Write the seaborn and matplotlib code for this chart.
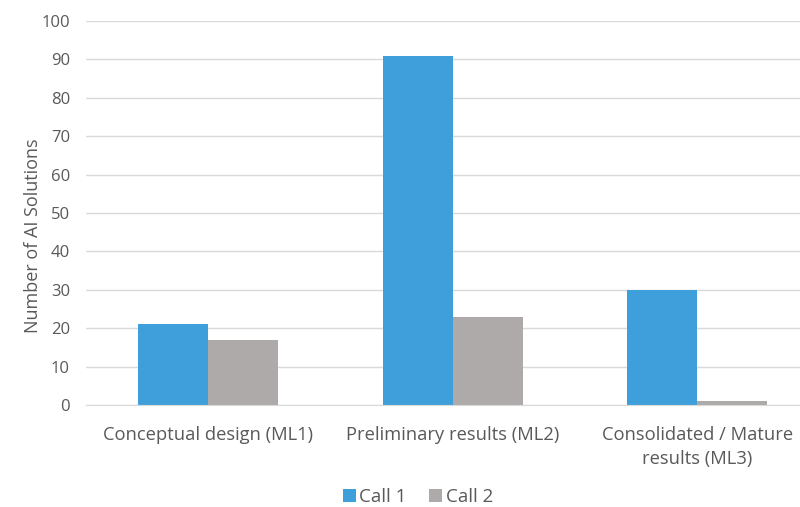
import pandas as pd
import matplotlib
matplotlib.use("Agg")
import matplotlib.pyplot as plt
import seaborn as sns

# data
categories = ["Conceptual design (ML1)", "Preliminary results (ML2)", "Consolidated / Mature\nresults (ML3)"]
call1 = [21, 91, 30]
call2 = [17, 23, 1]
series = ["Call 1", "Call 2"]

df = pd.DataFrame({
    "category": categories * 2,
    "value": call1 + call2,
    "call": [series[0]] * 3 + [series[1]] * 3,
})

sns.set_style("white")
plt.rcParams["font.family"] = ["Open Sans", "DejaVu Sans"]

fig = plt.figure(figsize=(8, 5.07), dpi=100)
ax = fig.add_axes([86 / 800, 1 - 405 / 507, 733.5 / 800, 384 / 507])

sns.barplot(data=df, x="category", y="value", hue="call", ax=ax,
            palette=["#3E9FDA", "#AEAAAA"], width=0.573, saturation=1,
            linewidth=0, legend=True)

ax.set_ylim(0, 100)
ax.set_yticks(range(0, 101, 10))
ax.yaxis.grid(True, color="#D9D9D9", linewidth=1)
ax.set_axisbelow(True)
for s in ["top", "right", "left"]:
    ax.spines[s].set_visible(False)
ax.spines["bottom"].set_color("#D9D9D9")
ax.tick_params(axis="both", length=0, colors="#595959")
ax.tick_params(axis="y", labelsize=12, pad=11.5)
ax.tick_params(axis="x", labelsize=13.2, pad=15)
for lbl in ax.get_xticklabels():
    lbl.set_linespacing(1.45)
ax.set_xlabel("")
ax.set_ylabel("Number of AI Solutions", color="#595959", fontsize=13)
ax.yaxis.label.set_va("center")
ax.yaxis.set_label_coords((33 - 86) / 733.5, (405 - 236) / 384)

leg = ax.legend(loc="center", bbox_to_anchor=(418 / 800, 1 - 497 / 507),
                bbox_transform=fig.transFigure, ncol=2, frameon=False,
                fontsize=13.5, handlelength=0.7, handleheight=0.7,
                handletextpad=0.2, columnspacing=1.2)
for t in leg.get_texts():
    t.set_color("#595959")

fig.savefig("out.png", dpi=100)
